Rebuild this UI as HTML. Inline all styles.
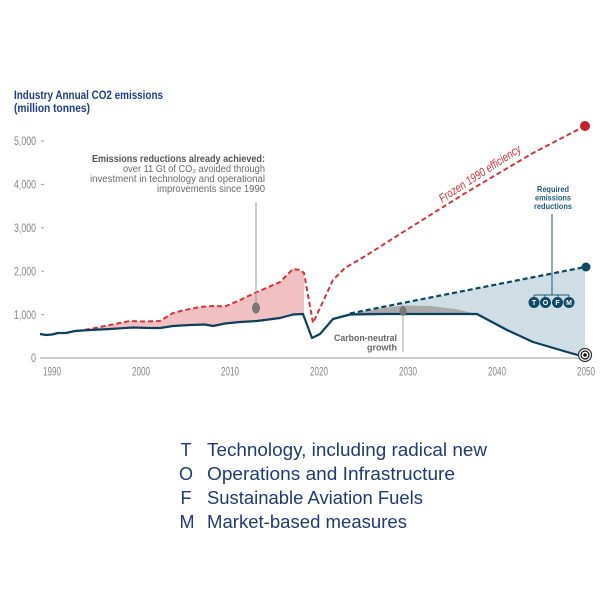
<!DOCTYPE html>
<html><head><meta charset="utf-8"><style>
html,body{margin:0;padding:0;background:#fff;}
svg{display:block;font-family:"Liberation Sans",sans-serif;}
</style></head><body>
<svg width="600" height="600" viewBox="0 0 600 600" xmlns="http://www.w3.org/2000/svg">
<rect width="600" height="600" fill="#fff"/>
<!-- title -->
<text x="14" y="99" font-size="11.5" font-weight="bold" fill="#1d3f87" textLength="149" lengthAdjust="spacingAndGlyphs">Industry Annual CO2 emissions</text>
<text x="14" y="112" font-size="11.5" font-weight="bold" fill="#1d3f87" textLength="76" lengthAdjust="spacingAndGlyphs">(million tonnes)</text>
<!-- y ticks -->
<g font-size="11.5" fill="#858585" text-anchor="end">
<text x="36" y="145.2" textLength="22" lengthAdjust="spacingAndGlyphs">5,000</text>
<text x="36" y="188.6" textLength="22" lengthAdjust="spacingAndGlyphs">4,000</text>
<text x="36" y="232" textLength="22" lengthAdjust="spacingAndGlyphs">3,000</text>
<text x="36" y="275.4" textLength="22" lengthAdjust="spacingAndGlyphs">2,000</text>
<text x="36" y="318.8" textLength="22" lengthAdjust="spacingAndGlyphs">1,000</text>
<text x="36" y="362.2" textLength="5" lengthAdjust="spacingAndGlyphs">0</text>
</g>
<g stroke="#9a9a9a" stroke-width="1">
<line x1="41" y1="141" x2="44" y2="141"/>
<line x1="41" y1="184.4" x2="44" y2="184.4"/>
<line x1="41" y1="227.8" x2="44" y2="227.8"/>
<line x1="41" y1="271.2" x2="44" y2="271.2"/>
<line x1="41" y1="314.6" x2="44" y2="314.6"/>
</g>
<!-- x labels -->
<g font-size="11.5" fill="#858585" text-anchor="middle">
<text x="52" y="375.5" textLength="18" lengthAdjust="spacingAndGlyphs">1990</text>
<text x="141" y="375.5" textLength="18" lengthAdjust="spacingAndGlyphs">2000</text>
<text x="230" y="375.5" textLength="18" lengthAdjust="spacingAndGlyphs">2010</text>
<text x="319" y="375.5" textLength="18" lengthAdjust="spacingAndGlyphs">2020</text>
<text x="408" y="375.5" textLength="18" lengthAdjust="spacingAndGlyphs">2030</text>
<text x="497" y="375.5" textLength="18" lengthAdjust="spacingAndGlyphs">2040</text>
<text x="586" y="375.5" textLength="18" lengthAdjust="spacingAndGlyphs">2050</text>
</g>
<!-- pink fill -->
<polygon fill="#f0c0c2" points="77,331 90,329 100,327 115,324 130,321 145,321.5 160,321 173,313 185,310 200,307 213,306 225,306.5 240,300 257,292 280,282 293,269 300,270 304,273 304,314 303,314 293,314.5 280,318 257,321 240,322 225,323.5 213,326 205,324.5 190,325 173,326 160,328 150,328 133,327.5 110,329 90,330 77,331"/>
<!-- light blue fill -->
<polygon fill="#cfdde4" points="350,313.5 585,267 585,357 567,352 533,342 507,330 477,314 380,314"/>
<!-- grey fill -->
<polygon fill="#a9a9a9" points="350,314 380,308.5 403,305.5 430,306 455,309 477,314"/>
<!-- axis -->
<line x1="40" y1="358" x2="590" y2="358" stroke="#bdbdbd" stroke-width="1.5"/>
<!-- red dashed -->
<polyline fill="none" stroke="#d6323a" stroke-width="2" stroke-dasharray="5,3" points="77,331 90,329 100,327 115,324 130,321 145,321.5 160,321 173,313 185,310 200,307 213,306 225,306.5 240,300 257,292 280,282 293,269 300,270 304,273 313,323 333,280 345,268 367,255 400,234 467,192 533,153 585,126"/>
<!-- blue dashed -->
<polyline fill="none" stroke="#0e4563" stroke-width="2.2" stroke-dasharray="5,3" points="350,313.5 400,303.5 585,267"/>
<!-- blue solid -->
<polyline fill="none" stroke="#0d3f5c" stroke-width="2.2" stroke-linejoin="round" points="40,334 46,335 52,334.5 58,333 66,333 75,331 90,330 110,329 133,327.5 150,328 160,328 173,326 190,325 205,324.5 213,326 225,323.5 240,322 257,321 280,318 293,314.5 303,314 312,338 320,334 333,319 350,314.5 380,314 477,314 507,330 533,342 567,352 585,357"/>
<!-- end markers -->
<circle cx="585" cy="126" r="5" fill="#c81f2a"/>
<circle cx="586" cy="267" r="4.5" fill="#0e4a66"/>
<circle cx="585" cy="355" r="6.5" fill="#fff" stroke="#333" stroke-width="1.2"/>
<circle cx="585" cy="355" r="4" fill="#fff" stroke="#111" stroke-width="1.2"/>
<circle cx="585" cy="355" r="1.8" fill="#111"/>
<!-- annotation left -->
<line x1="256" y1="202" x2="256" y2="308" stroke="#999" stroke-width="1"/>
<ellipse cx="256" cy="308" rx="4" ry="5.5" fill="#777"/>
<g font-size="10" text-anchor="end">
<text x="265" y="162" font-weight="bold" fill="#555" textLength="173" lengthAdjust="spacingAndGlyphs">Emissions reductions already achieved:</text>
<text x="265" y="172" fill="#6a6a6a" textLength="142" lengthAdjust="spacingAndGlyphs">over 11 Gt of CO₂ avoided through</text>
<text x="265" y="182" fill="#6a6a6a" textLength="175" lengthAdjust="spacingAndGlyphs">investment in technology and operational</text>
<text x="265" y="192" fill="#6a6a6a" textLength="108" lengthAdjust="spacingAndGlyphs">improvements since 1990</text>
</g>
<!-- frozen label -->
<text x="0" y="0" font-size="12" font-style="italic" fill="#d6323a" text-anchor="middle" textLength="95" lengthAdjust="spacingAndGlyphs" transform="translate(482,177) rotate(-33)">Frozen 1990 efficiency</text>
<!-- carbon neutral -->
<line x1="403" y1="311" x2="403" y2="352" stroke="#aaa" stroke-width="1"/>
<ellipse cx="403" cy="311" rx="3.5" ry="5" fill="#777"/>
<g font-size="9" font-weight="bold" fill="#666" text-anchor="end">
<text x="397" y="341" textLength="63" lengthAdjust="spacingAndGlyphs">Carbon-neutral</text>
<text x="397" y="350.5" textLength="30" lengthAdjust="spacingAndGlyphs">growth</text>
</g>
<!-- required reductions -->
<g font-size="8.5" font-weight="bold" fill="#1e5a78" text-anchor="middle">
<text x="553" y="192" textLength="32" lengthAdjust="spacingAndGlyphs">Required</text>
<text x="553" y="200.5" textLength="36" lengthAdjust="spacingAndGlyphs">emissions</text>
<text x="553" y="209" textLength="38" lengthAdjust="spacingAndGlyphs">reductions</text>
</g>
<g stroke="#1e5a78" stroke-width="1" fill="none">
<line x1="552" y1="214" x2="552" y2="295"/>
<line x1="534" y1="295" x2="569" y2="295"/>
<line x1="534" y1="295" x2="534" y2="298"/>
<line x1="545" y1="295" x2="545" y2="298"/>
<line x1="558" y1="295" x2="558" y2="298"/>
<line x1="569" y1="295" x2="569" y2="298"/>
</g>
<g fill="#0e4a66">
<circle cx="534" cy="302.5" r="5.5"/>
<circle cx="545.5" cy="302.5" r="5.5"/>
<circle cx="557.5" cy="302.5" r="5.5"/>
<circle cx="569" cy="302.5" r="5.5"/>
</g>
<g font-size="7" font-weight="bold" fill="#fff" text-anchor="middle">
<text x="534" y="305">T</text>
<text x="545.5" y="305">O</text>
<text x="557.5" y="305">F</text>
<text x="569" y="305">M</text>
</g>
<!-- legend -->
<g font-size="18" fill="#1e3a78">
<text x="186" y="456" text-anchor="middle">T</text>
<text x="186" y="480" text-anchor="middle">O</text>
<text x="186" y="504" text-anchor="middle">F</text>
<text x="187" y="528" text-anchor="middle">M</text>
<text x="207" y="456" textLength="280" lengthAdjust="spacingAndGlyphs">Technology, including radical new</text>
<text x="207" y="480" textLength="248" lengthAdjust="spacingAndGlyphs">Operations and Infrastructure</text>
<text x="207" y="504" textLength="216" lengthAdjust="spacingAndGlyphs">Sustainable Aviation Fuels</text>
<text x="207" y="528" textLength="200" lengthAdjust="spacingAndGlyphs">Market-based measures</text>
</g>
</svg>
</body></html>
